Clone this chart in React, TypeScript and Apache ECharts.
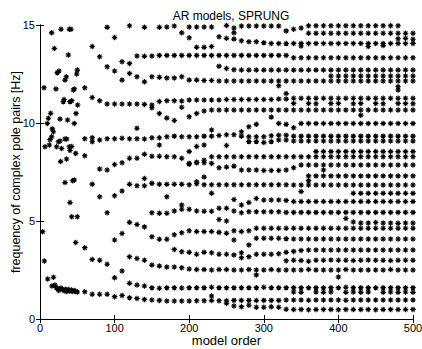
import React, { useEffect, useRef } from "react";
import * as echarts from "echarts";

// ---------- data ----------
const TITLE = "AR models, SPRUNG";
const X_NAME = "model order";
const Y_NAME = "frequency of complex pole pairs [Hz]";
const X_TICKS = [0, 100, 200, 300, 400, 500];
const Y_TICKS = [0, 5, 10, 15];
const ORDER_STEP = 10;

// Each track: pole-pair frequency [Hz] per model order, starting at the given order, step 10.
const trackA = [1.39,1.26,1.26,1.26,1.14,1.2,1.09,1.05,1.0,0.97,0.95,0.92,0.92,0.92,0.92,0.93,0.93,0.94,0.93,0.93,0.95,0.95,0.95,0.94,0.95,0.95,0.95,0.97,0.97,0.97,0.96,0.97,0.97,0.97,0.97,0.96,0.97,0.97,0.97,0.97,0.97,0.97,0.97,0.97,0.97];
const trackB = [0.8,0.66,0.63,0.7,0.6,0.6,0.62,0.6,0.5,0.48,0.49,0.47,0.48,0.49,0.48,0.47,0.49,0.48,0.48,0.49,0.47,0.48,0.49,0.48,0.48,0.49];
const trackC = [2.1,2.45,1.82,1.73,1.68,1.6,1.57,1.6,1.6,1.58,1.6,1.6,1.6,1.62,1.6,1.6,1.6,1.6,1.6,1.6,1.62,1.6,1.6,1.6,1.6,1.6,1.6,1.6,1.6,1.6,1.6,1.62,1.6,1.6,1.6,1.6,1.6,1.6,1.6,1.6,1.6];
const trackD = [1.38,1.36,null,1.38,1.36,1.38,null,1.36,1.38,1.36,1.38,null,1.36,1.38,1.36,1.38,1.36];
const trackE1 = [3.04,3.0,2.79];
const trackE = [3.18,3.09,3.0,2.75,2.7,2.65,2.65,2.62,2.55,2.52,2.52,2.5,2.52,2.52,2.5,2.5,2.52,2.5,2.5,2.52,2.5,2.5,2.5,2.5,2.52,2.5,2.5,2.5,2.5,2.52,2.5,2.5,2.5,2.5,2.5,2.52,2.5,2.5,2.5];
const trackF = [3.55,3.43,3.4,3.3,3.4,3.38,3.3,3.3,3.27,3.38,3.18,3.3,3.3,3.3,3.33,3.4,3.45,3.5,3.52,3.52,3.52,3.52,3.52,3.52,3.52,3.52,3.52,3.52,3.52,3.52,3.52,3.52,3.52];
const trackG = [2.97,3.0,2.98,2.95,3.0,3.0,3.01,3.0,3.0,2.98,3.0,3.01,3.0,3.0,2.98,3.0,3.0,3.0];
const trackH = [4.03,4.36,4.93,4.82,4.7,4.2,4.07,4.07,4.3,4.4,4.5,4.46,4.46,4.46,4.42,4.37,4.5,4.46,4.5,4.63,4.63,4.63,4.63,4.63,4.63,4.63,4.63,4.63,4.63,4.63,4.63,4.63,4.63,4.63,4.63,4.63,4.63,4.63,4.63,4.63,4.63];
const trackH2 = [4.03,null,3.78,4.12,4.12,4.12,4.12,4.1,4.08,4.08,4.08,4.08,4.08,4.08,4.08,4.08,4.08,4.08,4.08,4.08,4.08,4.08,4.08,4.08,4.08];
const trackI = [5.13,4.95,4.9,4.9,4.92,4.9,4.9,4.88,4.9,4.9];
const trackJ = [5.42,5.39,5.39,5.51,5.6,5.6,5.51,5.5,5.5,5.65,5.65,5.51,5.42,5.47,5.47,5.47,5.47,5.47,5.44,5.44,5.44,5.44,5.44,5.44,5.44,5.44,5.44,5.44,5.44,5.44,5.44,5.44,5.44,5.44,5.44,5.44];
const trackK = [6.1,5.82,5.94,6.15,6.07,6.07,6.07,6.05,5.99,5.99,5.99,5.99,5.99,5.99,5.99,5.99,5.99,5.99,5.99,5.99,5.99,5.99,5.99,5.99,5.99];
const trackL = [6.41,6.41,6.41,6.41,6.41,6.41,6.41,6.41,6.41];
const trackM0 = [6.88,6.24,5.42];
const trackM = [6.29,6.53,6.87,6.8,6.8,6.92,6.88,6.87,6.87,6.87,6.85,6.9,6.85,6.85,6.85,6.85,6.85,6.85,6.85,6.85,6.85,6.85,6.85,6.85,6.84,6.84,6.84,6.84,6.84,6.84,6.84,6.84,6.84,6.84,6.84,6.84,6.84,6.84,6.84,6.84,6.84];
const trackN = [7.3,7.3,7.3,7.3,7.3,7.3,7.3,7.3,7.3,7.3,7.3,7.3,7.3,7.3,7.3];
const trackO = [7.9,7.97,7.97,7.94,7.72,7.75,7.8,7.6,7.6,7.6,7.58,7.58,7.58,7.6,7.72,7.86,7.86,7.86,7.86,7.86,7.86,7.86,7.86,7.86,7.86,7.86,7.86,7.86,7.86,7.86,7.86];
const trackP = [7.65,7.6,7.88,7.97,8.2,8.2,8.4,8.3,8.3,8.28,8.28,8.2,7.94,8.0,8.1,8.28,8.28,8.28,8.28,8.28,8.28,8.28,8.28,8.28,8.28,8.28,8.28,8.28,8.28,8.28,8.28,8.28,8.28,8.28,8.28,8.28,8.28,8.28,8.28,8.28,8.28,8.28,8.28];
const trackQ = [9.05,9.05,9.0,9.05,9.13,9.13,9.08,9.08,9.08,9.08,9.08,9.08,9.08,9.08,9.08,9.08,9.08,9.08,9.08,9.08,9.08,9.08,9.08];
const trackQ2 = [8.54,8.54,8.54,8.54,8.54,8.54,8.54,8.54,8.54,8.54,8.54,8.54,8.54,8.54];
const trackR = [9.2,9.25,9.13,9.2,9.2,9.22,9.2,9.2,9.18,9.25,9.25,9.3,9.33,9.3,9.3,9.3,9.33,9.33,9.36,9.4,9.4,9.55,9.3,9.3,9.3,9.35,9.38,9.38,9.33,9.33,9.33,9.33,9.33,9.33,9.33,9.33,9.33,9.33,9.33,9.33,9.33,9.33,9.33,9.33,9.33];
const trackS = [9.81,9.93,null,null,9.98,9.93,9.76,9.98,9.98,9.98,9.98,9.98,9.98,9.98,9.98,9.98,9.98,9.98,9.98,9.98,9.98,9.98,9.98];
const trackT1 = [10.49,10.25,10.13];
const trackT = [10.32,10.49,10.61,10.66,10.66,10.66,10.66,10.66,10.66,10.66,10.66,10.66,10.66,10.66,10.66,10.66,10.66,10.66,10.66,10.66,10.66,10.66,10.66,10.66,10.66,10.66,10.66,10.66,10.66,10.66,10.66];
const trackU = [11.3,11.14,10.97,10.97,10.97,10.97,10.97,10.95,10.92,11.1,11.14,11.14,11.12,11.17,11.17,11.17,11.17,11.17,11.2,11.2,11.2,11.2,11.2,11.2,11.2,11.22,11.22,11.26,11.26,11.26,11.26,11.26,11.26,11.26,11.26,11.26,11.26,11.26,11.26,11.26,11.26,11.26,11.26,11.26];
const trackU2 = [11.0,null,11.0,10.98,null,11.0,11.0,null,10.98,11.0,null,11.0,10.98,null,11.0,11.0,10.98];
const trackV = [13.9,13.38,12.87,12.65,12.19,12.53,12.36,12.1,12.36,12.33,12.3,12.3,12.36,12.19,12.19,12.17,12.17,12.14,12.14,12.14,12.14,12.14,12.14,12.14,12.14,12.14,12.14,12.14,12.14,12.14,12.14,12.14,12.14,12.14,12.14,12.14,12.14,12.14,12.14,12.14,12.14,12.14,12.14,12.14];
const trackW = [12.4,12.4,12.4,12.4,12.4,12.4,12.4,12.4,12.4,12.4,12.4,12.4];
const trackX = [12.9,12.78,12.72,12.7,12.7,12.7,12.7,12.7,12.7,12.7,12.7,12.7,12.7,12.7,12.7,12.7,12.7,12.7,12.7,12.7,12.7,12.7,12.7,12.7,12.7,12.7,12.7];
const trackY = [13.13,13.04,13.42,13.4,13.42,13.45,13.45,13.45,13.45,13.45,13.45,13.45,13.45,13.45,13.45,13.45,13.45,13.45,13.45,13.45,13.45,13.45,13.45,13.33,13.33,13.33,13.33,13.33,13.33,13.33,13.33,13.33,13.33,13.33,13.33,13.33,13.33,13.33,13.33,13.33];
const trackZ1 = [13.86,13.86,13.9];
const trackZ = [14.4,14.32,14.28,14.2,14.15,14.15,14.1,14.06,14.06,14.05,14.06,14.06,14.06,14.06,14.06,14.06,14.06,14.06,14.06,14.06,14.06,14.06,14.06,14.06,14.06,14.06,14.06];
const trackAA = [14.58,14.58,14.58,14.58,14.58,14.58,14.58,14.58,14.58,14.58,14.58,14.58,14.58,14.58,14.58];
const trackAB = [14.88,14.9,14.95,14.6,14.9,14.9,14.9,14.9,null,14.97,14.85,14.95,14.95,14.95,14.95,14.95,14.95,null,null,null,14.96,14.96,14.96,14.96,14.96,14.96,14.96,14.96,14.96,14.96,14.96,14.96,14.96];

// [first model order, track]
const TRACKS: Array<[number, Array<number | null>]> = [
  [60, trackA], [250, trackB], [100, trackC], [340, trackD], [70, trackE1], [120, trackE],
  [180, trackF], [330, trackG], [100, trackH], [260, trackH2], [410, trackI], [150, trackJ],
  [260, trackK], [420, trackL], [70, trackM0], [100, trackM], [360, trackN], [200, trackO],
  [80, trackP], [280, trackQ], [370, trackQ2], [60, trackR], [280, trackS], [160, trackT1],
  [200, trackT], [70, trackU], [340, trackU2], [70, trackV], [390, trackW], [240, trackX],
  [110, trackY], [210, trackZ1], [240, trackZ], [360, trackAA], [160, trackAB],
];

// stray / doubled poles [order, frequency]
const extraPoints = [
  [230,1.17],[290,2.25],[400,2.14],[270,3.13],[240,5.08],[250,5.0],[190,5.82],[140,7.17],
  [210,7.0],[220,7.24],[170,6.24],[230,6.41],[350,6.5],[360,7.06],[380,7.6],[160,8.88],
  [200,8.54],[210,8.8],[220,8.88],[250,8.85],[70,9.04],[230,9.64],[270,9.33],[130,9.73],
  [310,10.3],[430,10.4],[150,10.78],[190,10.8],[330,11.5],[320,11.9],[480,11.85],[480,11.68],
  [350,13.93],[440,13.9],[460,13.95],[480,14.3],[490,14.32],[500,14.27],[330,14.7],[340,14.78],
  [350,14.85],[260,14.6],[200,14.35],[90,14.88],[100,14.36],[120,14.96],[140,14.88],
];

// low model orders [order, frequency]
const lowOrderPoints = [
  [3.6,4.45],[5.8,2.96],[10.3,2.04],[18,2.13],
  [16,1.68],[20,1.73],[22,1.6],[24,1.55],[26,1.5],[28,1.58],[30,1.5],[32,1.45],[34,1.52],
  [36,1.45],[38,1.5],[40,1.42],[42,1.48],[44,1.4],[46,1.45],[48,1.4],[50,1.38],[25,1.45],[35,1.4],
  [33.5,6.96],[43.8,7.05],[46,7.09],[40.2,5.94],[42.5,5.22],[50,5.22],[47.8,3.9],[60,3.64],
  [27.6,8.03],[35.6,8.16],[47.8,8.45],[60,8.33],
  [5.4,11.8],[15.6,14.6],[19.2,13.8],[21.4,11.74],[23.2,12.57],[25.5,12.65],[28.2,14.78],
  [33.5,12.19],[35.3,12.36],[38,13.47],[39.3,14.78],[41.5,14.78],[44.7,11.68],[46,11.74],
  [49.2,12.5],[50,12.7],[31.3,11.09],[32.2,11.2],[40.2,11.09],[42.5,11.14],[50.5,10.92],
  [48.3,10.49],[9.9,9.98],[11.2,10.24],[14.3,10.5],[16.5,9.7],[17.9,9.55],[15.6,9.3],
  [13.4,9.15],[6.7,8.79],[12.5,8.88],[24.6,9.04],[26.8,9.08],[33.5,9.18],[35.8,9.18],
  [22.3,8.79],[29,8.7],[39.3,8.79],[42.5,8.8],[40.2,8.6],[26.8,10.2],[37,10.15],[46,9.98],
  [60,11.8],
];

// ---------- chart ----------
const FONT = "'Liberation Sans', Arial, Helvetica, sans-serif";
const ASTERISK = "path://M5,0L5,10M0,5L10,5M1.6,1.6L8.4,8.4M1.6,8.4L8.4,1.6";

function buildPoints(): number[][] {
  const pts: number[][] = [];
  for (const [start, vals] of TRACKS) {
    vals.forEach((v, i) => {
      if (v != null) pts.push([start + i * ORDER_STEP, v]);
    });
  }
  extraPoints.forEach((p) => pts.push(p));
  lowOrderPoints.forEach((p) => pts.push(p));
  return pts;
}

export default function App() {
  const ref = useRef<HTMLDivElement | null>(null);
  useEffect(() => {
    if (!ref.current) return;
    const chart = echarts.init(ref.current, undefined, { renderer: "svg" });
    const axisLine = { show: true, lineStyle: { color: "#000", width: 1 } };
    const tick = { show: true, inside: true, length: 4, lineStyle: { color: "#000", width: 1 } };
    const xMin = X_TICKS[0], xMax = X_TICKS[X_TICKS.length - 1];
    const yMin = Y_TICKS[0], yMax = Y_TICKS[Y_TICKS.length - 1];
    chart.setOption({
      animation: false,
      backgroundColor: "#fff",
      title: {
        text: TITLE,
        left: 226,
        top: 5,
        textAlign: "center",
        textStyle: { fontSize: 12, fontWeight: "normal", color: "#000", fontFamily: FONT },
      },
      grid: {
        left: 40, right: 9, top: 25, bottom: 30,
        containLabel: false, outerBoundsMode: "none",
      },
      xAxis: [
        {
          type: "value", min: xMin, max: xMax, interval: 100, position: "bottom",
          axisLine, axisTick: tick, splitLine: { show: false },
          axisLabel: { color: "#000", fontSize: 11, margin: 3, fontFamily: FONT },
          name: X_NAME, nameLocation: "middle", nameGap: 15, nameMoveOverlap: false,
          nameTextStyle: { color: "#000", fontSize: 13, fontFamily: FONT },
        },
        {
          type: "value", min: xMin, max: xMax, interval: 100, position: "top",
          axisLine, axisTick: tick, splitLine: { show: false }, axisLabel: { show: false },
        },
      ],
      yAxis: [
        {
          type: "value", min: yMin, max: yMax, interval: 5, position: "left",
          axisLine, axisTick: tick, splitLine: { show: false },
          axisLabel: { color: "#000", fontSize: 11, margin: 5, fontFamily: FONT },
          name: Y_NAME, nameLocation: "middle", nameGap: 18, nameRotate: 90, nameMoveOverlap: false,
          nameTextStyle: { color: "#000", fontSize: 12.5, fontFamily: FONT },
        },
        {
          type: "value", min: yMin, max: yMax, interval: 5, position: "right",
          axisLine, axisTick: tick, splitLine: { show: false }, axisLabel: { show: false },
        },
      ],
      series: [
        {
          type: "scatter",
          xAxisIndex: 0,
          yAxisIndex: 0,
          symbol: ASTERISK,
          symbolSize: 5.5,
          itemStyle: { color: "#000", borderColor: "#000", borderWidth: 1.1, opacity: 1 },
          data: buildPoints(),
        },
      ],
    });
    return () => chart.dispose();
  }, []);
  return (
    <div
      ref={ref}
      style={{ position: "absolute", left: 0, top: 0, width: 422, height: 349 }}
    />
  );
}
